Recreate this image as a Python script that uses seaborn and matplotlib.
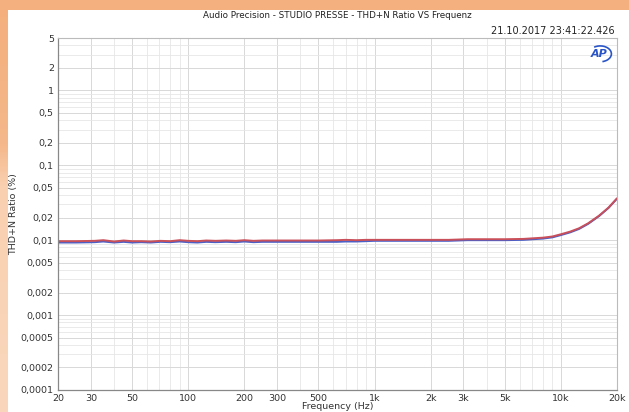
import numpy as np
import pandas as pd
import matplotlib
matplotlib.use("Agg")
import matplotlib.pyplot as plt
import seaborn as sns
from matplotlib.ticker import FixedLocator, LogLocator, NullFormatter
from matplotlib.patches import Arc
from matplotlib.colors import LinearSegmentedColormap

# Sweep frequencies (Hz)
freq = [20, 25, 31.5, 35, 40, 45, 50, 56, 63, 71, 80, 90, 100, 112, 125, 140,
        160, 180, 200, 224, 250, 315, 400, 500, 630, 700, 800, 900, 1000, 1250,
        1600, 2000, 2500, 3150, 4000, 5000, 6300, 7100, 8000, 9000, 10000,
        11200, 12500, 14000, 16000, 18000, 20000]

# THD+N ratio (%) per channel
thdn_red = [0.0097, 0.0097, 0.0098, 0.0100, 0.0096, 0.0099, 0.0097, 0.0097,
            0.0096, 0.0098, 0.0097, 0.0100, 0.0098, 0.0097, 0.0099, 0.0098,
            0.0099, 0.0098, 0.0100, 0.0098, 0.0099, 0.0099, 0.0099, 0.0099,
            0.0100, 0.0101, 0.0100, 0.0101, 0.0101, 0.0101, 0.0101, 0.0101,
            0.0101, 0.0103, 0.0103, 0.0103, 0.0104, 0.0106, 0.0108, 0.0112,
            0.0120, 0.0130, 0.0144, 0.0168, 0.0212, 0.0272, 0.0362]
thdn_blue = [0.0093, 0.0093, 0.0094, 0.0096, 0.0093, 0.0095, 0.0093, 0.0094,
             0.0093, 0.0095, 0.0094, 0.0096, 0.0094, 0.0093, 0.0095, 0.0094,
             0.0095, 0.0094, 0.0096, 0.0094, 0.0095, 0.0095, 0.0095, 0.0095,
             0.0095, 0.0096, 0.0096, 0.0097, 0.0098, 0.0098, 0.0098, 0.0098,
             0.0098, 0.0100, 0.0100, 0.0100, 0.0101, 0.0103, 0.0105, 0.0109,
             0.0117, 0.0127, 0.0141, 0.0165, 0.0209, 0.0269, 0.0358]

x_ticks = [20, 30, 50, 100, 200, 300, 500, 1000, 2000, 3000, 5000, 10000, 20000]
x_labels = ["20", "30", "50", "100", "200", "300", "500", "1k", "2k", "3k",
            "5k", "10k", "20k"]
y_ticks = [5, 2, 1, 0.5, 0.2, 0.1, 0.05, 0.02, 0.01, 0.005, 0.002, 0.001,
           0.0005, 0.0002, 0.0001]
y_labels = ["5", "2", "1", "0,5", "0,2", "0,1", "0,05", "0,02", "0,01",
            "0,005", "0,002", "0,001", "0,0005", "0,0002", "0,0001"]

df = pd.DataFrame({
    "freq": freq * 2,
    "thdn": thdn_blue + thdn_red,
    "ch": ["B"] * len(freq) + ["A"] * len(freq),
})

sns.set_style("white")
plt.rcParams["font.family"] = ["DejaVu Sans"]

W, H = 629, 412
fig = plt.figure(figsize=(W / 100, H / 100), dpi=100)
fig.patch.set_facecolor("white")

# Orange page border (top strip and left strip with gradient)
bg = fig.add_axes([0, 0, 1, 1], zorder=-10)
bg.axis("off")
grad = np.linspace(0, 1, 200)[:, None]
cmap = LinearSegmentedColormap.from_list(
    "page", [(0, "#F4AF7C"), (0.35, "#F5B88A"), (0.45, "#F9D0B0"), (1, "#FAD7BC")])
bg.imshow(grad, cmap=cmap, extent=(0, 8, H, 0), aspect="auto")
bg.add_patch(plt.Rectangle((0, 0), W, 10, color="#F4B17F", lw=0))
bg.set_xlim(0, W)
bg.set_ylim(H, 0)

ax = fig.add_axes([58 / W, 1 - 390 / H, (617 - 58) / W, (390 - 38) / H])
ax.set_facecolor("white")
sns.lineplot(data=df, x="freq", y="thdn", hue="ch",
             palette={"B": "#4B5FC6", "A": "#C9505A"},
             hue_order=["B", "A"], linewidth=1.4, legend=False, ax=ax,
             estimator=None, sort=False)
ax.set_xscale("log")
ax.set_yscale("log")
ax.set_xlim(20, 20000)
ax.set_ylim(0.0001, 5)

ax.xaxis.set_major_locator(FixedLocator(x_ticks))
ax.set_xticklabels(x_labels)
ax.xaxis.set_minor_locator(LogLocator(base=10, subs=np.arange(1, 10)))
ax.xaxis.set_minor_formatter(NullFormatter())
ax.yaxis.set_major_locator(FixedLocator(y_ticks))
ax.set_yticklabels(y_labels)
ax.yaxis.set_minor_locator(LogLocator(base=10, subs=np.arange(1, 10)))
ax.yaxis.set_minor_formatter(NullFormatter())

ax.grid(True, which="major", color="#D8D8D8", linewidth=0.7)
ax.grid(True, which="minor", color="#E6E6E6", linewidth=0.6)
ax.set_axisbelow(True)
ax.tick_params(which="both", length=0, labelsize=6.8, colors="#333333", pad=3)
for side in ["top", "right"]:
    ax.spines[side].set_color("#BBBBBB")
    ax.spines[side].set_linewidth(0.8)
for side in ["left", "bottom"]:
    ax.spines[side].set_color("#888888")
    ax.spines[side].set_linewidth(0.9)

ax.set_xlabel("Frequency (Hz)", fontsize=6.8, color="#333333", labelpad=-1)
ax.set_ylabel("THD+N Ratio (%)", fontsize=6.8, color="#333333")
ax.yaxis.set_label_coords((18 - 58) / 559, 0.5)

fig.text(337 / W, 1 - 16 / H,
         "Audio Precision - STUDIO PRESSE - THD+N Ratio VS Frequenz",
         ha="center", va="center", fontsize=6.3, color="#222222")
fig.text(615 / W, 1 - 31 / H, "21.10.2017 23:41:22.426",
         ha="right", va="center", fontsize=7, color="#222222")

# AP logo
ax.text(0.968, 0.955, "AP", transform=ax.transAxes, ha="center", va="center",
        fontsize=8, fontweight="bold", fontstyle="italic", color="#2A55C8")
ax.add_patch(Arc((0.97, 0.955), 0.04, 0.045, theta1=-80, theta2=120,
                 transform=ax.transAxes, color="#2A55C8", lw=1.2))

fig.savefig("out.png", dpi=100, facecolor=fig.get_facecolor())
